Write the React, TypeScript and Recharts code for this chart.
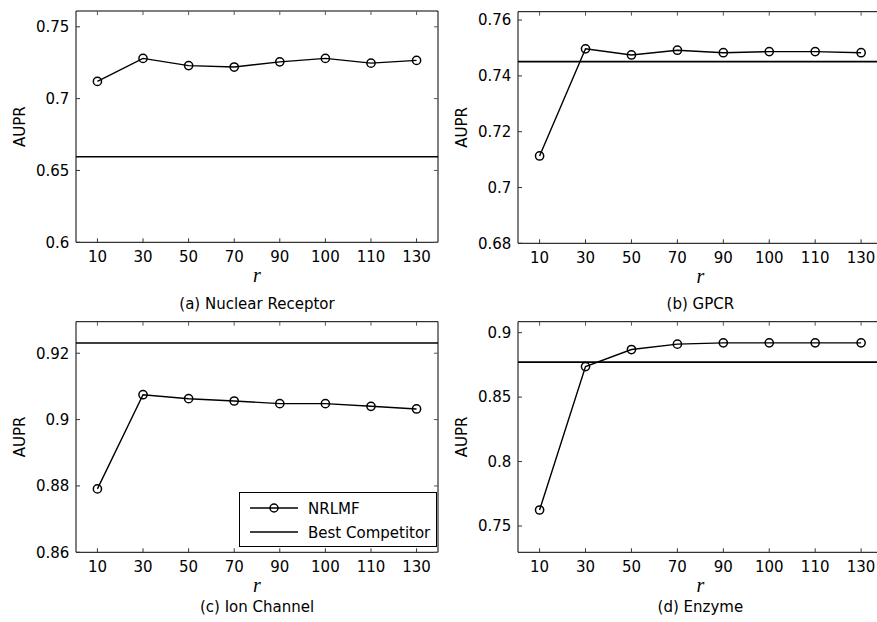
import React from "react";
import {
  LineChart,
  Line,
  XAxis,
  YAxis,
  ReferenceLine,
  Label,
  Legend,
} from "recharts";

const SANS = "'DejaVu Sans', sans-serif";
const SERIF = "'Liberation Serif', 'DejaVu Serif', serif";
const INK = "#000";

// r values on the x axis, shared by all four panels
const rValues = ["10", "30", "50", "70", "90", "100", "110", "130"];

// NRLMF AUPR per dataset
const nrAupr = [0.712, 0.728, 0.723, 0.722, 0.7256, 0.728, 0.7247, 0.7266];
const gpcrAupr = [0.7113, 0.7497, 0.7475, 0.7492, 0.7483, 0.7487, 0.7487, 0.7483];
const icAupr = [0.8791, 0.9075, 0.9063, 0.9056, 0.9048, 0.9048, 0.904, 0.9032];
const enzAupr = [0.7624, 0.8737, 0.8869, 0.8911, 0.8921, 0.8921, 0.8921, 0.8921];

// best competitor AUPR: nuclear receptor, gpcr, ion channel, enzyme
const bestAupr = [0.6595, 0.7451, 0.9231, 0.8771];

const nrTicks = [0.6, 0.65, 0.7, 0.75];
const gpcrTicks = [0.68, 0.7, 0.72, 0.74, 0.76];
const icTicks = [0.86, 0.88, 0.9, 0.92];
const enzTicks = [0.75, 0.8, 0.85, 0.9];

const captions = ["(a) Nuclear Receptor", "(b) GPCR", "(c) Ion Channel", "(d) Enzyme"];

const Y_AXIS_W = 60;
const X_AXIS_H = 25;
const TICK = -4;
const X_DOMAIN: [number, number] = [-0.47, 7.47];
const X_TICKS = rValues.map((_, i) => i);

type Box = { x0: number; x1: number; y0: number; y1: number };

function LegendBox() {
  return (
    <svg width={198} height={55} style={{ display: "block" }}>
      <rect x={0.5} y={0.5} width={197} height={54} fill="#fff" stroke={INK} strokeWidth={1} />
      <line x1={11} x2={59} y1={16} y2={16} stroke={INK} strokeWidth={1.4} />
      <circle cx={35} cy={16} r={4} fill="none" stroke={INK} strokeWidth={1.5} />
      <text x={69} y={21.7} fontFamily={SANS} fontSize={15} fill={INK}>
        NRLMF
      </text>
      <line x1={11} x2={59} y1={40} y2={40} stroke={INK} strokeWidth={1.4} />
      <text x={69} y={46} fontFamily={SANS} fontSize={15} fill={INK}>
        Best Competitor
      </text>
    </svg>
  );
}

function Panel(props: {
  left: number;
  top: number;
  width: number;
  height: number;
  box: Box;
  values: number[];
  best: number;
  domain: [number, number];
  ticks: number[];
  caption: string;
  captionBase: number;
  legend?: { left: number; top: number };
}) {
  const { left, top, width, height, box, values, best, domain, ticks, caption, captionBase, legend } = props;
  const rows = rValues.map((r, i) => ({ idx: i, r, aupr: values[i] }));
  const margin = {
    left: box.x0 - Y_AXIS_W,
    right: width - box.x1 - 1,
    top: box.y0 - 1,
    bottom: height - box.y1 - X_AXIS_H,
  };
  const tickStyle = { fontSize: 15, fill: INK, fontFamily: SANS };
  const cx = (box.x0 + box.x1) / 2;
  return (
    <>
      <div style={{ position: "absolute", left, top, width, height }}>
        <LineChart width={width} height={height} data={rows} margin={margin}>
          <XAxis
            xAxisId="bottom"
            dataKey="idx"
            type="number"
            domain={X_DOMAIN}
            ticks={X_TICKS}
            allowDataOverflow
            height={X_AXIS_H}
            tickFormatter={(v) => rValues[v] ?? ""}
            tick={tickStyle}
            tickSize={TICK}
            tickMargin={13.4}
            axisLine={{ stroke: INK }}
            tickLine={{ stroke: "#333" }}
          >
            <Label
              value="r"
              position="bottom"
              offset={0}
              style={{ fontFamily: SERIF, fontStyle: "italic", fontSize: 20, fill: INK }}
            />
          </XAxis>
          <XAxis
            xAxisId="top"
            orientation="top"
            dataKey="idx"
            type="number"
            domain={X_DOMAIN}
            ticks={X_TICKS}
            allowDataOverflow
            height={1}
            tickFormatter={() => ""}
            tickSize={TICK}
            axisLine={{ stroke: INK }}
            tickLine={{ stroke: "#555" }}
          />
          <YAxis
            yAxisId="left"
            type="number"
            domain={domain}
            ticks={ticks}
            allowDataOverflow
            width={Y_AXIS_W}
            tickFormatter={(v) => String(v)}
            tick={tickStyle}
            tickSize={TICK}
            tickMargin={10.7}
            axisLine={{ stroke: INK }}
            tickLine={{ stroke: "#333" }}
          >
            <Label
              value="AUPR"
              angle={-90}
              position="insideLeft"
              offset={4}
              style={{ textAnchor: "middle", fontFamily: SANS, fontSize: 15, fill: INK }}
            />
          </YAxis>
          <YAxis
            yAxisId="right"
            orientation="right"
            type="number"
            domain={domain}
            ticks={ticks}
            allowDataOverflow
            width={1}
            tickFormatter={() => ""}
            tickSize={TICK}
            axisLine={{ stroke: INK }}
            tickLine={{ stroke: "#555" }}
          />
          <ReferenceLine
            xAxisId="bottom"
            yAxisId="left"
            y={best}
            stroke={INK}
            strokeWidth={1.6}
          />
          {/* keeps the mirrored top/right axes bound to the same data */}
          <Line
            xAxisId="top"
            yAxisId="right"
            dataKey="aupr"
            stroke="none"
            dot={false}
            activeDot={false}
            legendType="none"
            isAnimationActive={false}
          />
          <Line
            xAxisId="bottom"
            yAxisId="left"
            dataKey="aupr"
            stroke={INK}
            strokeWidth={1.4}
            dot={{ r: 4.1, stroke: INK, strokeWidth: 1.5, fill: "none" }}
            activeDot={false}
            isAnimationActive={false}
          />
          {legend && (
            <Legend
              layout="horizontal"
              verticalAlign="middle"
              content={() => <LegendBox />}
              wrapperStyle={{ position: "absolute", left: legend.left, top: legend.top, width: 198, height: 55 }}
            />
          )}
        </LineChart>
      </div>
      <div
        style={{
          position: "absolute",
          left: left + cx - 150,
          top: top + captionBase - 14.2,
          width: 300,
          textAlign: "center",
          fontFamily: SANS,
          fontSize: 15,
          lineHeight: "18px",
          color: INK,
        }}
      >
        {caption}
      </div>
    </>
  );
}

export default function App() {
  return (
    <div
      style={{
        position: "absolute",
        left: 0,
        top: 0,
        width: 877,
        height: 622,
        overflow: "hidden",
        background: "#fff",
      }}
    >
      <Panel
        left={0}
        top={0}
        width={440}
        height={310}
        box={{ x0: 76, x1: 438, y0: 11, y1: 242.3 }}
        values={nrAupr}
        best={bestAupr[0]}
        domain={[0.6, 0.761]}
        ticks={nrTicks}
        caption={captions[0]}
        captionBase={309}
      />
      <Panel
        left={437}
        top={0}
        width={450}
        height={310}
        box={{ x0: 81, x1: 445.7, y0: 11.7, y1: 243.3 }}
        values={gpcrAupr}
        best={bestAupr[1]}
        domain={[0.68, 0.763]}
        ticks={gpcrTicks}
        caption={captions[1]}
        captionBase={309.5}
      />
      <Panel
        left={0}
        top={310}
        width={440}
        height={312}
        box={{ x0: 76, x1: 438, y0: 11.7, y1: 242.3 }}
        values={icAupr}
        best={bestAupr[2]}
        domain={[0.86, 0.9295]}
        ticks={icTicks}
        caption={captions[2]}
        captionBase={301.7}
        legend={{ left: 239.3, top: 182.3 }}
      />
      <Panel
        left={437}
        top={310}
        width={450}
        height={312}
        box={{ x0: 81, x1: 445.7, y0: 11.7, y1: 242.3 }}
        values={enzAupr}
        best={bestAupr[3]}
        domain={[0.7296, 0.9085]}
        ticks={enzTicks}
        caption={captions[3]}
        captionBase={301.7}
      />
    </div>
  );
}
